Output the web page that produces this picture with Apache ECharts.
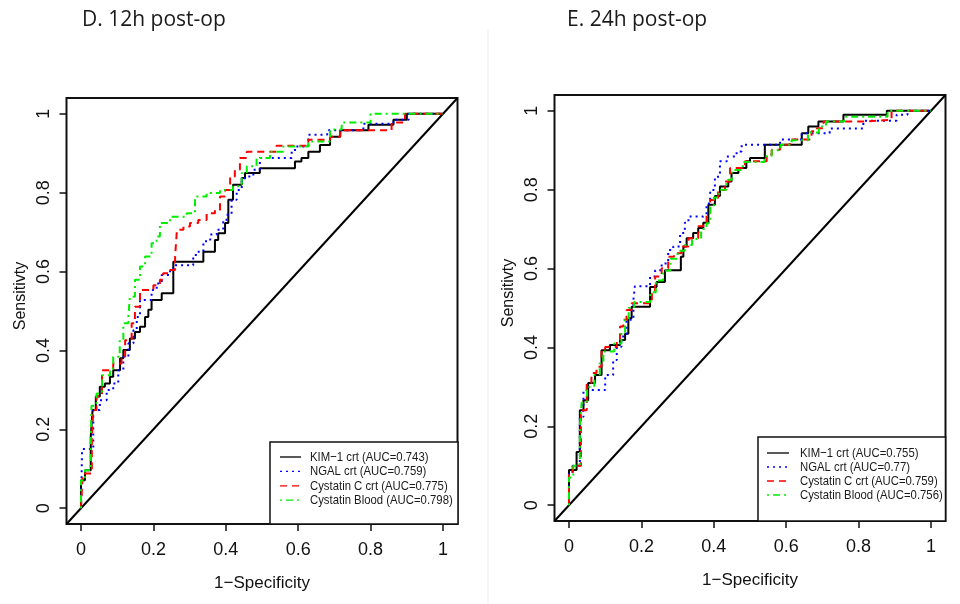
<!DOCTYPE html>
<html><head><meta charset="utf-8">
<script src="https://cdn.jsdelivr.net/npm/echarts@6/dist/echarts.min.js"></script>
<style>html,body{margin:0;padding:0;background:#fff}#c{width:960px;height:604px}</style>
</head><body><div id="c"></div><script>
// ---- data ----
const tickValues = [0, 0.2, 0.4, 0.6, 0.8, 1];
const axisMin = -0.04, axisMax = 1.04;
const panelTitles = ['D. 12h post-op', 'E. 24h post-op'];
const xTitle = '1\u2212Specificity';
const yTitle = 'Sensitivty';
const names12 = ['KIM\u22121 crt (AUC=0.743)', 'NGAL crt (AUC=0.759)', 'Cystatin C crt (AUC=0.775)', 'Cystatin Blood (AUC=0.798)'];
const names24 = ['KIM\u22121 crt (AUC=0.755)', 'NGAL crt (AUC=0.77)', 'Cystatin C crt (AUC=0.759)', 'Cystatin Blood (AUC=0.756)'];

// [1-specificity, sensitivity] corner points of each ROC staircase
const kim12 = [[0,0],[0,0.071],[0.011,0.096],[0.027,0.181],[0.032,0.249],[0.041,0.283],[0.052,0.308],[0.066,0.316],[0.08,0.333],[0.089,0.35],[0.108,0.38],[0.117,0.401],[0.135,0.43],[0.149,0.447],[0.163,0.46],[0.177,0.485],[0.186,0.503],[0.195,0.528],[0.223,0.545],[0.255,0.625],[0.338,0.65],[0.37,0.68],[0.379,0.697],[0.398,0.723],[0.407,0.782],[0.42,0.82],[0.444,0.837],[0.453,0.85],[0.494,0.862],[0.591,0.879],[0.609,0.888],[0.628,0.904],[0.66,0.921],[0.688,0.942],[0.716,0.958],[0.794,0.972],[0.863,0.985],[0.9,1],[1,1]];
const ngal12 = [[0,0],[0.003,0.15],[0.034,0.249],[0.052,0.274],[0.071,0.3],[0.089,0.316],[0.103,0.35],[0.117,0.384],[0.131,0.418],[0.145,0.452],[0.154,0.485],[0.163,0.528],[0.195,0.553],[0.209,0.57],[0.223,0.591],[0.246,0.608],[0.26,0.616],[0.31,0.642],[0.32,0.65],[0.338,0.677],[0.357,0.694],[0.375,0.706],[0.393,0.727],[0.402,0.744],[0.416,0.782],[0.43,0.807],[0.444,0.829],[0.453,0.841],[0.476,0.858],[0.494,0.888],[0.582,0.904],[0.591,0.917],[0.628,0.947],[0.68,0.958],[0.78,0.975],[0.863,0.985],[0.905,1],[1,1]];
const cys12 = [[0,0],[0.005,0.088],[0.03,0.18],[0.034,0.249],[0.043,0.283],[0.058,0.35],[0.089,0.367],[0.112,0.384],[0.122,0.426],[0.14,0.469],[0.149,0.511],[0.163,0.553],[0.2,0.565],[0.218,0.579],[0.227,0.596],[0.246,0.604],[0.26,0.638],[0.265,0.706],[0.283,0.714],[0.301,0.723],[0.324,0.731],[0.347,0.748],[0.37,0.756],[0.384,0.79],[0.398,0.807],[0.412,0.841],[0.425,0.858],[0.439,0.888],[0.458,0.904],[0.54,0.919],[0.628,0.934],[0.688,0.942],[0.716,0.958],[0.858,0.978],[0.895,1],[1,1]];
const blood12 = [[0,0],[0,0.07],[0.011,0.096],[0.027,0.174],[0.029,0.26],[0.043,0.291],[0.058,0.337],[0.08,0.354],[0.089,0.384],[0.107,0.426],[0.117,0.469],[0.131,0.486],[0.135,0.536],[0.149,0.579],[0.163,0.613],[0.177,0.638],[0.195,0.672],[0.209,0.689],[0.218,0.723],[0.246,0.739],[0.292,0.748],[0.315,0.79],[0.347,0.799],[0.384,0.807],[0.42,0.816],[0.444,0.85],[0.458,0.867],[0.485,0.888],[0.522,0.904],[0.559,0.917],[0.628,0.93],[0.688,0.96],[0.72,0.978],[0.8,1],[1,1]];

const kim24 = [[0,0],[0,0.089],[0.021,0.135],[0.03,0.241],[0.04,0.266],[0.053,0.31],[0.072,0.33],[0.09,0.393],[0.113,0.406],[0.141,0.419],[0.155,0.435],[0.164,0.474],[0.173,0.503],[0.224,0.553],[0.242,0.566],[0.265,0.596],[0.309,0.63],[0.316,0.656],[0.325,0.677],[0.343,0.69],[0.357,0.703],[0.371,0.716],[0.385,0.762],[0.403,0.784],[0.417,0.808],[0.44,0.821],[0.449,0.842],[0.468,0.855],[0.49,0.872],[0.5,0.88],[0.541,0.914],[0.643,0.943],[0.661,0.96],[0.689,0.973],[0.758,0.99],[0.878,1],[1,1]];
const ngal24 = [[0,0],[0,0.08],[0.01,0.1],[0.03,0.224],[0.04,0.292],[0.1,0.33],[0.122,0.368],[0.132,0.402],[0.145,0.428],[0.159,0.47],[0.178,0.521],[0.182,0.555],[0.224,0.58],[0.238,0.596],[0.256,0.613],[0.274,0.647],[0.288,0.656],[0.307,0.69],[0.32,0.716],[0.33,0.732],[0.371,0.736],[0.38,0.765],[0.39,0.799],[0.403,0.833],[0.417,0.872],[0.436,0.884],[0.463,0.897],[0.477,0.914],[0.583,0.927],[0.643,0.943],[0.72,0.955],[0.813,0.975],[0.905,0.99],[0.935,1],[1,1]];
const cys24 = [[0,0],[0,0.08],[0.01,0.1],[0.033,0.241],[0.049,0.31],[0.062,0.335],[0.076,0.351],[0.09,0.393],[0.1,0.401],[0.132,0.419],[0.141,0.453],[0.15,0.47],[0.159,0.495],[0.173,0.512],[0.229,0.545],[0.238,0.58],[0.256,0.601],[0.274,0.63],[0.29,0.639],[0.311,0.656],[0.33,0.677],[0.357,0.707],[0.371,0.716],[0.38,0.74],[0.39,0.774],[0.412,0.799],[0.431,0.821],[0.445,0.855],[0.486,0.872],[0.546,0.889],[0.56,0.901],[0.583,0.914],[0.61,0.927],[0.67,0.948],[0.685,0.956],[0.703,0.973],[0.822,0.977],[0.891,1],[1,1]];
const blood24 = [[0,0],[0,0.07],[0.012,0.1],[0.03,0.2],[0.035,0.26],[0.05,0.3],[0.07,0.33],[0.085,0.36],[0.095,0.39],[0.125,0.41],[0.145,0.44],[0.155,0.47],[0.165,0.5],[0.18,0.515],[0.225,0.54],[0.24,0.57],[0.26,0.595],[0.28,0.625],[0.3,0.645],[0.32,0.66],[0.34,0.675],[0.365,0.7],[0.38,0.715],[0.39,0.755],[0.4,0.78],[0.415,0.8],[0.435,0.825],[0.45,0.85],[0.48,0.87],[0.54,0.885],[0.56,0.9],[0.585,0.914],[0.615,0.925],[0.66,0.945],[0.69,0.96],[0.71,0.973],[0.76,0.985],[0.88,1],[1,1]];

// ---- styles ----
const colors = ['#000000', '#0000ff', '#ff0000', '#00ee00'];
const dashes = ['solid', [2, 4], [7, 5], [2, 4, 7, 4]];
const widths = [2, 2, 2, 2];
const axisFont = "'Liberation Sans', Arial, sans-serif";
const panels = [
  {grid: {left: 66.5, top: 98, width: 391, height: 426}, names: names12, sets: [kim12, ngal12, cys12, blood12],
   legendBox: {x: 270, y: 442, w: 188, h: 82, row0: 457, pitch: 14.4, lineX: 280, lineLen: 21, textX: 310}},
  {grid: {left: 554.5, top: 95, width: 391, height: 426}, names: names24, sets: [kim24, ngal24, cys24, blood24],
   legendBox: {x: 758, y: 437, w: 187.5, h: 84, row0: 453, pitch: 14, lineX: 767, lineLen: 22, textX: 800}}
];
const titlePos = [{left: 82, top: 10}, {left: 567, top: 10}];

const chart = echarts.init(document.getElementById('c'), null, {renderer: 'canvas'});
const series = [];
panels.forEach((p, i) => {
  series.push({type: 'line', name: 'diag' + i, xAxisIndex: i, yAxisIndex: i,
    data: [[axisMin, axisMin], [axisMax, axisMax]], symbol: 'none', silent: true,
    lineStyle: {color: '#000', width: 2}, z: 1});
  p.sets.forEach((d, k) => {
    series.push({type: 'line', name: p.names[k], xAxisIndex: i, yAxisIndex: i, data: d,
      step: 'end', symbol: 'none', showSymbol: false, color: colors[k],
      itemStyle: {color: colors[k]},
      lineStyle: {color: colors[k], width: widths[k], type: dashes[k]}, z: 2 + k});
  });
});

// legend boxes (R-style, bottom-right inside the plot)
const graphics = [{type: 'line', shape: {x1: 488, y1: 30, x2: 488, y2: 604}, style: {stroke: '#ececec', lineWidth: 1}, silent: true}];
panels.forEach(p => {
  const b = p.legendBox;
  graphics.push({type: 'rect', shape: {x: b.x, y: b.y, width: b.w, height: b.h}, style: {fill: '#fff', stroke: '#111', lineWidth: 1.5}, z: 10, silent: true});
  p.names.forEach((n, k) => {
    const y = b.row0 + k * b.pitch;
    graphics.push({type: 'line', shape: {x1: b.lineX, y1: y, x2: b.lineX + b.lineLen, y2: y},
      style: {stroke: colors[k], lineWidth: 1.3, lineDash: dashes[k] === 'solid' ? null : dashes[k]}, z: 11, silent: true});
    graphics.push({type: 'text', x: b.textX, y: y, scaleX: 0.84, z: 11, silent: true,
      style: {text: n, fontFamily: axisFont, fontSize: 13.5, fill: '#1a1a1a', textAlign: 'left', textVerticalAlign: 'middle'}});
  });
});

chart.setOption({
  animation: false,
  backgroundColor: '#fff',
  title: panelTitles.map((t, i) => ({text: t, left: titlePos[i].left, top: titlePos[i].top, padding: 0,
    textStyle: {fontFamily: "'Open Sans', sans-serif", fontSize: 21, fontWeight: 'normal', color: '#1a1a1a'}})),
  grid: panels.map(p => Object.assign({show: true, borderColor: '#111', borderWidth: 2, backgroundColor: 'transparent', outerBoundsMode: 'none'}, p.grid)),
  xAxis: panels.map((p, i) => ({gridIndex: i, type: 'value', min: axisMin, max: axisMax,
    axisLine: {show: false, onZero: false}, splitLine: {show: false},
    axisTick: {show: true, customValues: tickValues, length: 7, lineStyle: {color: '#111', width: 1.5}},
    axisLabel: {customValues: tickValues, formatter: v => String(v), margin: 17, fontSize: 18, color: '#111', fontFamily: axisFont},
    name: xTitle, nameLocation: 'middle', nameGap: 51,
    nameTextStyle: {fontSize: 17, color: '#111', fontFamily: axisFont}})),
  yAxis: panels.map((p, i) => ({gridIndex: i, type: 'value', min: axisMin, max: axisMax,
    axisLine: {show: false, onZero: false}, splitLine: {show: false},
    axisTick: {show: true, customValues: tickValues, length: 7, lineStyle: {color: '#111', width: 1.5}},
    axisLabel: {customValues: tickValues, formatter: v => String(v), rotate: 90, margin: 13, fontSize: 18, color: '#111', fontFamily: axisFont},
    name: yTitle, nameLocation: 'middle', nameGap: 38,
    nameTextStyle: {fontSize: 16, color: '#111', fontFamily: axisFont, padding: [0, 0, 0, 30]}})),
  graphic: graphics,
  series: series
});
</script></body></html>
